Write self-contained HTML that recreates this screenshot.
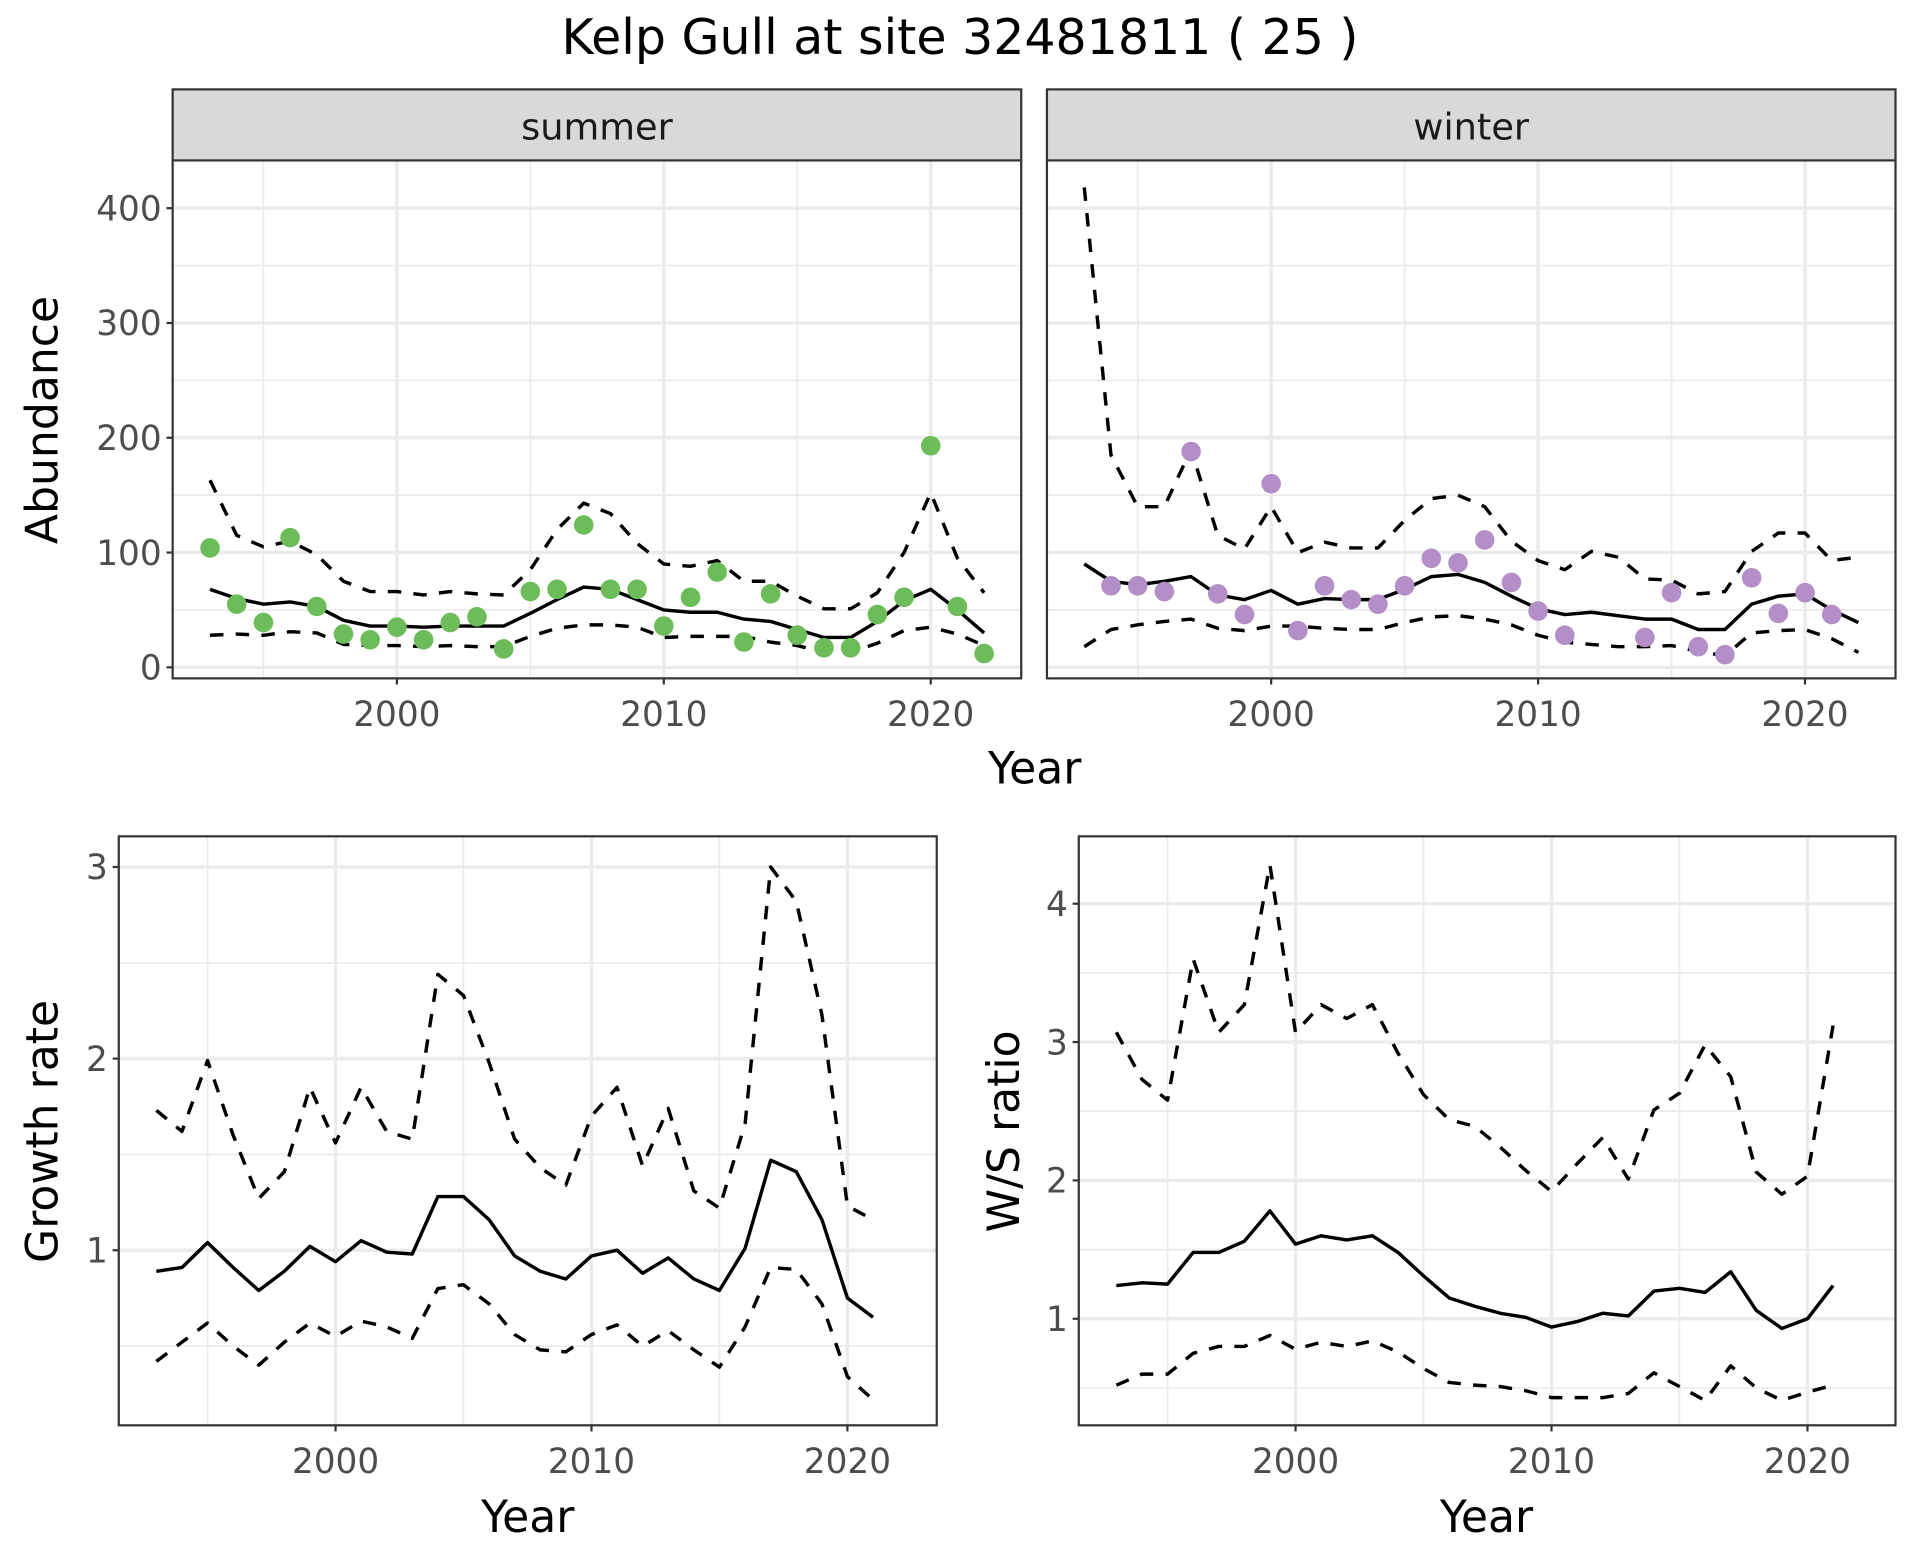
<!DOCTYPE html>
<html><head><meta charset="utf-8">
<style>
html,body{margin:0;padding:0;background:#fff;}
svg{display:block;font-family:"DejaVu Sans","Liberation Sans",sans-serif;}
</style></head>
<body>
<svg id="chart" width="1920" height="1560" viewBox="0 0 1568 1274" preserveAspectRatio="none" xmlns="http://www.w3.org/2000/svg">
<text x="784" y="44" text-anchor="middle" font-size="40" fill="#000">Kelp Gull at site 32481811 ( 25 )</text>
</svg>
<script>
const yearsA = [1993,1994,1995,1996,1997,1998,1999,2000,2001,2002,2003,2004,2005,2006,2007,2008,2009,2010,2011,2012,2013,2014,2015,2016,2017,2018,2019,2020,2021,2022];
const summerObs = [104,55,39,113,53,29,24,35,24,39,44,16,66,68,124,68,68,36,61,83,22,64,28,17,17,46,61,193,53,12];
const summerMean = [68,60,55,57,53,41,36,36,35,36,36,36,47,59,70,68,59,50,48,48,42,40,33,26,26,40,58,68,50,30];
const summerUpper = [163,115,105,110,98,75,66,66,63,66,64,63,85,120,143,134,108,90,88,93,75,75,62,51,51,65,100,152,95,65];
const summerLower = [28,29,28,31,30,20,19,19,18,19,18,18,27,34,37,37,35,26,27,27,27,22,19,13,13,21,32,35,29,19];
const winterObs = [null,71,71,66,188,64,46,160,32,71,59,55,71,95,91,111,74,49,28,null,null,26,65,18,11,78,47,65,46,null];
const winterMean = [90,75,72,75,79,63,59,67,55,60,59,59,68,79,81,74,62,51,46,48,45,42,42,33,33,55,62,64,50,39];
const winterUpper = [418,185,140,140,190,115,103,140,100,109,104,104,128,147,150,140,110,93,85,101,96,77,76,64,66,101,117,117,93,96];
const winterLower = [18,33,37,40,42,34,32,36,36,34,33,33,39,44,45,42,37,28,22,20,18,18,19,14,10,30,32,33,25,13];
const yearsB = [1993,1994,1995,1996,1997,1998,1999,2000,2001,2002,2003,2004,2005,2006,2007,2008,2009,2010,2011,2012,2013,2014,2015,2016,2017,2018,2019,2020,2021];
const growthMean = [0.89,0.91,1.04,0.91,0.79,0.89,1.02,0.94,1.05,0.99,0.98,1.28,1.28,1.16,0.97,0.89,0.85,0.97,1.0,0.88,0.96,0.85,0.79,1.01,1.47,1.41,1.16,0.75,0.65];
const growthUpper = [1.73,1.62,1.99,1.60,1.27,1.41,1.85,1.56,1.85,1.62,1.58,2.44,2.33,1.98,1.58,1.43,1.34,1.70,1.85,1.44,1.74,1.31,1.22,1.66,3.0,2.82,2.23,1.23,1.16];
const growthLower = [0.42,0.52,0.62,0.50,0.40,0.52,0.62,0.55,0.63,0.60,0.54,0.80,0.82,0.72,0.56,0.48,0.47,0.56,0.61,0.50,0.58,0.48,0.39,0.60,0.91,0.90,0.72,0.34,0.22];
const ratioMean = [1.24,1.26,1.25,1.48,1.48,1.56,1.78,1.54,1.60,1.57,1.60,1.48,1.31,1.15,1.09,1.04,1.01,0.94,0.98,1.04,1.02,1.20,1.22,1.19,1.34,1.06,0.93,1.00,1.24];
const ratioUpper = [3.07,2.73,2.58,3.60,3.07,3.27,4.28,3.07,3.27,3.17,3.27,2.92,2.62,2.44,2.39,2.24,2.07,1.92,2.12,2.31,2.01,2.51,2.63,2.98,2.75,2.06,1.90,2.03,3.12];
const ratioLower = [0.52,0.60,0.60,0.75,0.80,0.80,0.88,0.78,0.83,0.80,0.84,0.76,0.64,0.54,0.52,0.51,0.48,0.43,0.43,0.43,0.46,0.61,0.51,0.41,0.66,0.50,0.41,0.47,0.52];
const xTicks = [2000,2010,2020];
const xMinor = [1995,2005,2015];
const abundTicks = [0,100,200,300,400];
const abundMinor = [50,150,250,350];
const growthTicks = [1,2,3];
const growthMinor = [0.5,1.5,2.5];
const ratioTicks = [1,2,3,4];
const ratioMinor = [0.5,1.5,2.5,3.5];

const svg = document.getElementById('chart');
const NS = 'http://www.w3.org/2000/svg';
function mk(tag, attrs, parent){
  const e = document.createElementNS(NS, tag);
  for (const k in attrs) e.setAttribute(k, attrs[k]);
  (parent||svg).appendChild(e);
  return e;
}
function panel(cfg){
  const g = mk('g', {});
  
  
  const sx = v => cfg.x0 + (v - cfg.xmin) / (cfg.xmax - cfg.xmin) * (cfg.x1 - cfg.x0);
  const sy = v => cfg.y1 - (v - cfg.ymin) / (cfg.ymax - cfg.ymin) * (cfg.y1 - cfg.y0);
  cfg.yMinor.forEach(v => { const l = mk('line', {x1:cfg.x0,x2:cfg.x1,y1:sy(v),y2:sy(v),stroke:'#ebebeb','stroke-width':1.4}, g);
      });
  xMinor.forEach(v => { const l = mk('line', {x1:sx(v),x2:sx(v),y1:cfg.y0,y2:cfg.y1,stroke:'#ebebeb','stroke-width':1.4}, g);
      });
  cfg.yTicks.forEach(v => {
    const l = mk('line', {x1:cfg.x0,x2:cfg.x1,y1:sy(v),y2:sy(v),stroke:'#ebebeb','stroke-width':2.8}, g);
     
    if (cfg.yLabels){
      mk('line', {x1:cfg.x0-5,x2:cfg.x0,y1:sy(v),y2:sy(v),stroke:'#333','stroke-width':1.8}, g);
      const t = mk('text', {x:cfg.x0-9,y:sy(v)+10,'text-anchor':'end','font-size':28,fill:'#4d4d4d'}, g);
      t.textContent = v;
       
    }
  });
  xTicks.forEach(v => {
    const l = mk('line', {x1:sx(v),x2:sx(v),y1:cfg.y0,y2:cfg.y1,stroke:'#ebebeb','stroke-width':2.8}, g);
     
    mk('line', {x1:sx(v),x2:sx(v),y1:cfg.y1,y2:cfg.y1+5,stroke:'#333','stroke-width':1.8}, g);
    const t = mk('text', {x:sx(v),y:cfg.y1+39,'text-anchor':'middle','font-size':28,fill:'#4d4d4d'}, g);
    t.textContent = v;
     
  });
  function line(ys, dashed, nm){
    let d = '';
    cfg.years.forEach((yr,i) => { d += (i? 'L':'M') + sx(yr).toFixed(1) + ',' + sy(ys[i]).toFixed(1); });
    const p = mk('path', {d:d, fill:'none', stroke:'#000','stroke-width':2.8,'stroke-dasharray':dashed?'11,10':'none','stroke-linejoin':'round'}, g);
     
  }
  line(cfg.upper, true, 'upper-bound-line');
  line(cfg.lower, true, 'lower-bound-line');
  line(cfg.mean, false, 'mean-line');
  if (cfg.obs){
    cfg.obs.forEach((v,i) => { if (v === null) return;
      const c = mk('circle', {cx:sx(cfg.years[i]),cy:sy(v),r:8,fill:cfg.color}, g);
        });
  }
  const b = mk('rect', {x:cfg.x0,y:cfg.y0,width:cfg.x1-cfg.x0,height:cfg.y1-cfg.y0,fill:'none',stroke:'#333','stroke-width':1.8}, g);
   
  if (cfg.strip){
    const s = mk('rect', {x:cfg.x0,y:73,width:cfg.x1-cfg.x0,height:cfg.y0-73,fill:'#d9d9d9',stroke:'#333','stroke-width':1.8}, g);
     
    const t = mk('text', {x:(cfg.x0+cfg.x1)/2,y:114,'text-anchor':'middle','font-size':30,fill:'#1a1a1a'}, g);
    t.textContent = cfg.strip;
     
  }
}
panel({name:'summer-panel',strip:'summer',x0:141,x1:834,y0:131,y1:554,xmin:1991.6,xmax:2023.39,ymin:-9.6,ymax:441.6,years:yearsA,mean:summerMean,upper:summerUpper,lower:summerLower,obs:summerObs,color:'#6cbd5a',yTicks:abundTicks,yMinor:abundMinor,yLabels:true});
panel({name:'winter-panel',strip:'winter',x0:855,x1:1548,y0:131,y1:554,xmin:1991.6,xmax:2023.39,ymin:-9.6,ymax:441.6,years:yearsA,mean:winterMean,upper:winterUpper,lower:winterLower,obs:winterObs,color:'#b48ec6',yTicks:abundTicks,yMinor:abundMinor,yLabels:false});
panel({name:'growth-rate-panel',x0:97,x1:765,y0:683,y1:1164,xmin:1991.53,xmax:2023.49,ymin:0.0863,ymax:3.16,years:yearsB,mean:growthMean,upper:growthUpper,lower:growthLower,yTicks:growthTicks,yMinor:growthMinor,yLabels:true});
panel({name:'ws-ratio-panel',x0:881,x1:1548,y0:683,y1:1164,xmin:1991.53,xmax:2023.44,ymin:0.23,ymax:4.487,years:yearsB,mean:ratioMean,upper:ratioUpper,lower:ratioLower,yTicks:ratioTicks,yMinor:ratioMinor,yLabels:true});

function label(txt, x, y, rot, nm){
  const t = mk('text', {x:x,y:y,'text-anchor':'middle','font-size':36,fill:'#000'});
  if (rot) t.setAttribute('transform','rotate(-90 '+x+' '+y+')');
  t.textContent = txt;
   
}
label('Year', 845, 640, false, 'x-axis-title-top');
label('Abundance', 47, 343, true, 'y-axis-title-abundance');
label('Year', 431, 1251, false, 'x-axis-title-growth');
label('Growth rate', 47, 924, true, 'y-axis-title-growth');
label('Year', 1214, 1251, false, 'x-axis-title-ratio');
label('W/S ratio', 832, 924, true, 'y-axis-title-ratio');
</script>
</body></html>
